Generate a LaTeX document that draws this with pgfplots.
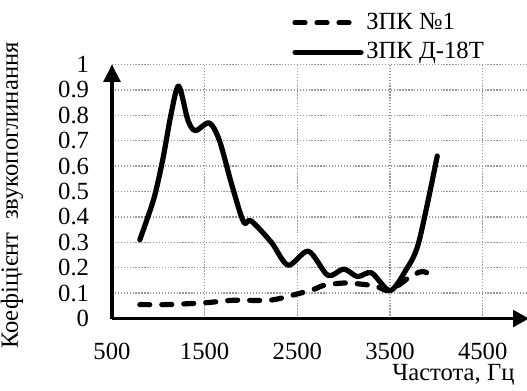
\documentclass[border=0pt]{standalone}
\usepackage{pgfplots}
\pgfplotsset{compat=1.18}
\usepackage{fontspec}
\setmainfont{Liberation Serif}
\usetikzlibrary{arrows.meta}
\begin{document}
\fontsize{18.5pt}{22pt}\selectfont
\begin{tikzpicture}
\begin{axis}[
  at={(0,0)}, anchor=south west,
  scale only axis,
  width=312.75pt, height=190.5pt,
  xmin=500, xmax=5000, ymin=0, ymax=1,
  axis lines=left,
  axis line style={line width=2.6pt},
  x axis line style={-{Triangle[length=12pt,width=12.5pt]}},
  y axis line style={-{Triangle[length=13pt,width=12.5pt]}},
  xtick={500,1500,2500,3500,4500},
  ytick={0,0.1,0.2,0.3,0.4,0.5,0.6,0.7,0.8,0.9,1},
  yticklabels={0,0.1,0.2,0.3,0.4,0.5,0.6,0.7,0.8,0.9,1},
  xticklabels={500,1500,2500,3500,4500},
  major tick length=0pt,
  grid=major,
  major grid style={gray!80, line width=1pt, dash pattern=on 1pt off 1.2pt},
  tick label style={font=\fontsize{18.5pt}{22pt}\selectfont},
  /pgf/number format/assume math mode=true,
  yticklabel style={anchor=east, inner sep=0pt, xshift=-17pt},
  xticklabel style={anchor=center, inner sep=0pt, yshift=-25pt},
  xlabel={Частота, Гц},
  xlabel style={at={(axis description cs:0,0)}, anchor=west, inner sep=0pt, xshift=210pt, yshift=-42pt, font=\fontsize{18.5pt}{22pt}\selectfont},
  ylabel={Коефіцієнт\ \ звукопоглинання},
  ylabel style={at={(axis description cs:0,0.5)}, anchor=center, inner sep=0pt, xshift=-3pt, yshift=75pt, font=\fontsize{18.5pt}{22pt}\selectfont},
  legend style={draw=none, fill=none, at={(axis description cs:0.432,1.106)}, anchor=west, inner sep=0pt, row sep=3pt, font=\fontsize{18.5pt}{22pt}\selectfont, /tikz/every even column/.append style={column sep=6pt}},
  legend cell align=left,
  legend image code/.code={\draw[#1] (0pt,0pt) -- (49.5pt,0pt);},
  clip=false,
]
\addplot[black, line width=3.9pt, line cap=round, dash pattern=on 7.5pt off 9pt, smooth, tension=0.5] coordinates {
(800,0.055) (1100,0.055) (1500,0.062) (1820,0.072) (2200,0.072) (2470,0.094) (2670,0.114) (2800,0.132) (3020,0.14) (3200,0.135) (3350,0.127) (3500,0.11) (3700,0.16) (3850,0.185) (4010,0.16)
};
\addlegendentry{ЗПК №1}
\addplot[black, line width=3.9pt, line cap=round, line join=round, smooth, tension=0.5] coordinates {
(800,0.31) (950,0.47) (1050,0.63) (1140,0.81) (1220,0.915) (1320,0.78) (1400,0.74) (1550,0.77) (1660,0.70) (1790,0.53) (1920,0.38) (2000,0.385) (2220,0.30) (2400,0.21) (2620,0.265) (2830,0.17) (3000,0.195) (3150,0.165) (3300,0.18) (3500,0.11) (3670,0.19) (3810,0.30) (4010,0.64)
};
\addlegendentry{ЗПК Д-18Т}
\end{axis}
\pgfresetboundingbox
\path[use as bounding box] (-84pt,-53.6pt) rectangle (311.25pt,238.9pt);
\end{tikzpicture}
\end{document}
